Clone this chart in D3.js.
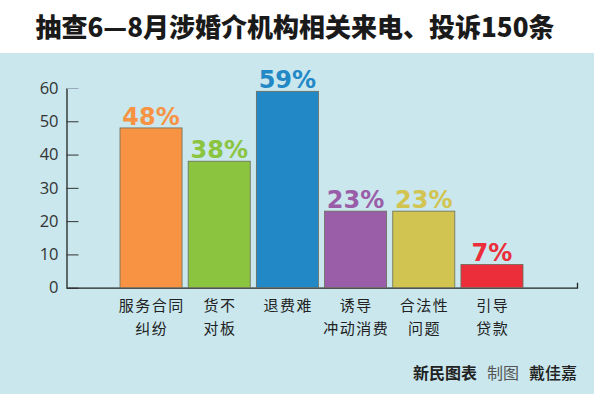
<!DOCTYPE html>
<html><head><meta charset="utf-8">
<script src="https://cdn.jsdelivr.net/npm/d3@7"></script>
<style>html,body{margin:0;padding:0;background:#fff;}svg{display:block;}</style>
</head><body>
<script>
const title = "抽查6—8月涉婚介机构相关来电、投诉150条";
const categories = [["服务合同","纠纷"],["货不","对板"],["退费难"],["诱导","冲动消费"],["合法性","问题"],["引导","贷款"]];
const values = [48, 38, 59, 23, 23, 7];
const valueLabels = ["48%","38%","59%","23%","23%","7%"];
const colors = ["#F79343","#8BC540","#2389C6","#9A5EA8","#D2C451","#EC2D3A"];
const yTicks = [0,10,20,30,40,50,60];

const W = 594, H = 394;
const svg = d3.select("body").append("svg").attr("width", W).attr("height", H);
svg.append("rect").attr("x",0).attr("y",0).attr("width",W).attr("height",H).attr("fill","#fff");
svg.append("rect").attr("x",0).attr("y",53).attr("width",W).attr("height",H-53).attr("fill","#C9E7ED");

svg.append("text").attr("x",295).attr("y",37).attr("text-anchor","middle")
  .attr("font-family","'Noto Sans CJK SC', sans-serif").attr("font-weight",900)
  .attr("font-size",26).attr("fill","#1a1a1a").text(title);

const y = d3.scaleLinear().domain([0,60]).range([287.7, 88]);
const x = d3.scaleBand().domain(d3.range(values.length)).range([120, 523]).paddingInner(0.09).paddingOuter(0);

// y axis
const yAxis = d3.axisLeft(y).tickValues(yTicks).tickSize(-12).tickPadding(8);
const ga = svg.append("g").attr("transform","translate(66.5,0)").call(yAxis);
ga.select(".domain").attr("stroke","#222").attr("stroke-width",1.3).attr("d","M0.5,88V287.7");
ga.selectAll(".tick line").attr("stroke","#333").attr("stroke-width",1);
ga.selectAll(".tick text").attr("font-family","'Open Sans', sans-serif").attr("font-size",16.5)
  .attr("fill","#333").attr("dx",0);
ga.selectAll(".tick").filter(d=>d===60).select("line").attr("stroke","#9ab");

// x axis baseline
svg.append("path").attr("d",`M66.5,${y(0)+0.5}H577.5V${y(0)-5}`).attr("fill","none").attr("stroke","#222").attr("stroke-width",1.3);

// bars
svg.selectAll("rect.bar").data(values).join("rect").attr("class","bar")
  .attr("x",(d,i)=>x(i)).attr("width",x.bandwidth())
  .attr("y",d=>y(d)).attr("height",d=>y(0)-y(d))
  .attr("fill",(d,i)=>colors[i]).attr("stroke","#6b6b5a").attr("stroke-width",0.8);

// value labels
svg.selectAll("text.val").data(values).join("text").attr("class","val")
  .attr("x",(d,i)=>x(i)+x.bandwidth()/2).attr("y",d=>y(d)-3)
  .attr("text-anchor","middle").attr("font-family","'DejaVu Sans', sans-serif")
  .attr("font-weight",700).attr("font-size",24).attr("fill",(d,i)=>colors[i])
  .text((d,i)=>valueLabels[i]);

// category labels
const cg = svg.selectAll("text.cat").data(categories).join("text").attr("class","cat")
  .attr("text-anchor","middle").attr("font-family","'Noto Sans CJK SC', sans-serif")
  .attr("font-size",15).attr("fill","#222").attr("letter-spacing",1.5);
cg.each(function(lines,i){
  const t = d3.select(this);
  lines.forEach((l,j)=>{
    t.append("tspan").attr("x",x(i)+x.bandwidth()/2+0.75).attr("y",311+j*23).text(l);
  });
});

// footer
const ft = svg.append("text").attr("x",577).attr("y",379).attr("text-anchor","end")
  .attr("font-family","'Noto Sans CJK SC', sans-serif").attr("font-size",16);
ft.append("tspan").attr("fill","#222").attr("font-weight",700).text("新民图表");
ft.append("tspan").attr("fill","#555").attr("dx",10).text("制图");
ft.append("tspan").attr("fill","#222").attr("font-weight",500).attr("dx",10).text("戴佳嘉");
</script>
</body></html>
